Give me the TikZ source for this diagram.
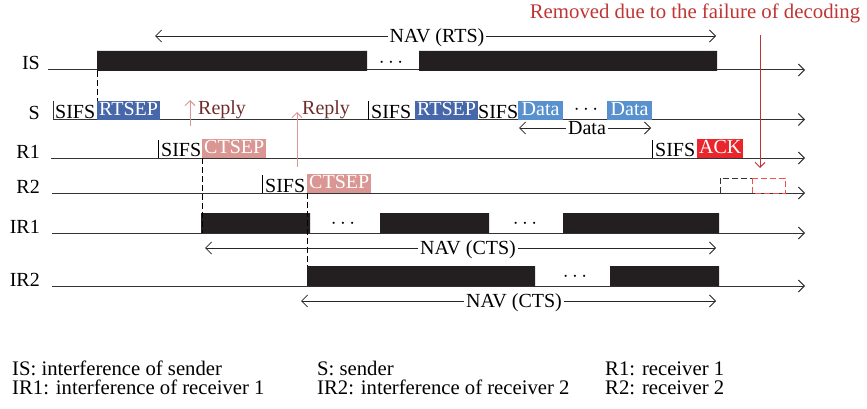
\documentclass[tikz,border=0pt]{standalone}
\usepackage{fontspec}
\setmainfont{Liberation Serif}
\usetikzlibrary{arrows.meta}

\definecolor{rtsblue}{RGB}{70,104,170}
\definecolor{datablue}{RGB}{88,145,205}
\definecolor{ctspink}{RGB}{218,150,146}
\definecolor{ackred}{RGB}{232,38,43}
\definecolor{lossred}{RGB}{192,52,52}
\definecolor{lightred}{RGB}{240,80,80}
\definecolor{replybrown}{RGB}{110,45,45}
\definecolor{barblack}{RGB}{35,31,32}

\begin{document}
\begin{tikzpicture}[x=1pt,y=-1pt,
        font=\fontsize{20}{22}\selectfont,
        >={Straight Barb[length=6pt,width=12pt]},
        axis/.style={->,line width=1pt,black!80},
        pkt/.style={anchor=south west,inner xsep=2pt,inner ysep=0pt,text height=14pt,text depth=4.5pt,text=white},
        sifs/.style={anchor=base west,inner sep=0pt},
        navlab/.style={inner xsep=2pt,inner ysep=0pt,text height=13pt,text depth=0pt},
        navarrow/.style={->,line width=0.8pt,black!85},
        guide/.style={dashed,dash pattern=on 6pt off 3pt,line width=0.9pt},
        key/.style={anchor=base west,inner sep=0pt,font=\fontsize{20.7}{22}\selectfont}]
        \useasboundingbox (0,0) rectangle (867,409);
        % time axes and their names
        \foreach \lab/\xs/\yy in {IS/48/70, R1/51/158, R2/52/193, IR1/52/233, IR2/52/286} {
            \draw[axis] (\xs,\yy) -- (805,\yy);
            \node[anchor=base east,inner sep=0pt] (lab\lab) at (40,\yy) {\lab};
        }
        \draw[axis] (53,101) -- (53,119.5) -- (805,119.5);
        \node[anchor=base east,inner sep=0pt] (labS) at (40,120) {S};
        % busy periods
        \fill[barblack] (97,51) rectangle (367,71) (419,51) rectangle (717,71);
        \fill[barblack] (201,213) rectangle (310,233) (380,213) rectangle (489,233) (563,213) rectangle (719,233);
        \fill[barblack] (307,266) rectangle (535,286) (610,266) rectangle (719,286);
        \node (dotsIS) at (391,63) {$\cdots$};
        \node (dotsIRa) at (343,224) {$\cdots$};
        \node (dotsIRb) at (525,224) {$\cdots$};
        \node (dotsIRc) at (575,277) {$\cdots$};
        \node (dotsS) at (586,110) {$\cdots$};
        % sender
        \node[sifs] (sifsSa) at (55,119) {SIFS};
        \node[pkt,fill=rtsblue] (rtsa) at (97,120) {RTSEP};
        \draw[line width=0.8pt] (368,101) -- (368,120);
        \node[sifs] (sifsSb) at (371,119) {SIFS};
        \node[pkt,fill=rtsblue] (rtsb) at (415,120) {RTSEP};
        \node[sifs] (sifsSc) at (478,119) {SIFS};
        \node[pkt,fill=datablue,inner xsep=3.5pt] (dataa) at (518,120) {Data};
        \node[pkt,fill=datablue,inner xsep=3.5pt] (datab) at (607,120) {Data};
        % receivers
        \draw[line width=0.8pt] (158,140) -- (158,158);
        \node[sifs] (sifsRa) at (161,157) {SIFS};
        \node[pkt,fill=ctspink] (ctsa) at (202,158) {CTSEP};
        \draw[line width=0.8pt] (652,140) -- (652,158);
        \node[sifs] (sifsRb) at (655,157) {SIFS};
        \node[pkt,fill=ackred,inner xsep=2pt] (ack) at (697,158) {ACK};
        \draw[line width=0.8pt] (262,175) -- (262,193);
        \node[sifs] (sifsRc) at (265,192) {SIFS};
        \node[pkt,fill=ctspink] (ctsb) at (307,193) {CTSEP};
        \draw[guide,black!80] (720,193) -- (720,178) -- (752,178) (720,193) -- (752,193);
        \draw[guide,lightred] (752,178) rectangle (785,193);
        % alignment guides
        \draw[guide] (97,71) -- (97,101);
        \draw[guide] (202,158) -- (202,233);
        \draw[guide] (307,193) -- (307,266);
        % replies
        \draw[->,ctspink,line width=0.9pt,>={Straight Barb[length=5pt,width=10pt]}] (190,126) -- (190,100);
        \node[sifs,text=replybrown] (replya) at (198,115) {Reply};
        \draw[->,ctspink,line width=0.9pt,>={Straight Barb[length=5pt,width=10pt]}] (297,167) -- (297,112);
        \node[sifs,text=replybrown] (replyb) at (302,115) {Reply};
        % NAV and data spans
        \node[navlab] (navrts) at (437,36) {NAV (RTS)};
        \coordinate (navrtsL) at (155,36);
        \coordinate (navrtsR) at (716,36);
        \draw[navarrow] (navrts) -- (navrtsL);
        \draw[navarrow] (navrts) -- (navrtsR);
        \node[navlab] (datalen) at (587,128) {Data};
        \coordinate (datalenL) at (519,128);
        \coordinate (datalenR) at (651,128);
        \draw[navarrow] (datalen) -- (datalenL);
        \draw[navarrow] (datalen) -- (datalenR);
        \node[navlab] (navctsa) at (468,248) {NAV (CTS)};
        \coordinate (navctsaL) at (205,248);
        \coordinate (navctsaR) at (716,248);
        \draw[navarrow] (navctsa) -- (navctsaL);
        \draw[navarrow] (navctsa) -- (navctsaR);
        \node[navlab] (navctsb) at (514,301) {NAV (CTS)};
        \coordinate (navctsbL) at (301,301);
        \coordinate (navctsbR) at (716,301);
        \draw[navarrow] (navctsb) -- (navctsbL);
        \draw[navarrow] (navctsb) -- (navctsbR);
        % decoding failure
        \node[anchor=base,text=lossred,inner sep=0pt,font=\fontsize{20.8}{22}\selectfont] (removed) at (695,19) {Removed due to the failure of decoding};
        \coordinate (lossend) at (760,168);
        \draw[->,lossred,line width=0.9pt,>={Straight Barb[length=5pt,width=10pt]}] (760,35) -- (lossend);
        % legend
        \node[key] (keyIS) at (12,375) {IS: interference of sender};
        \node[key] (keyIRa) at (12,394) {IR1: interference of receiver 1};
        \node[key] (keyS) at (317,375) {S: sender};
        \node[key] (keyIRb) at (317,394) {IR2: interference of receiver 2};
        \node[key] (keyRa) at (605,375) {R1: receiver 1};
        \node[key] (keyRb) at (605,394) {R2: receiver 2};
    \end{tikzpicture}
\end{document}
